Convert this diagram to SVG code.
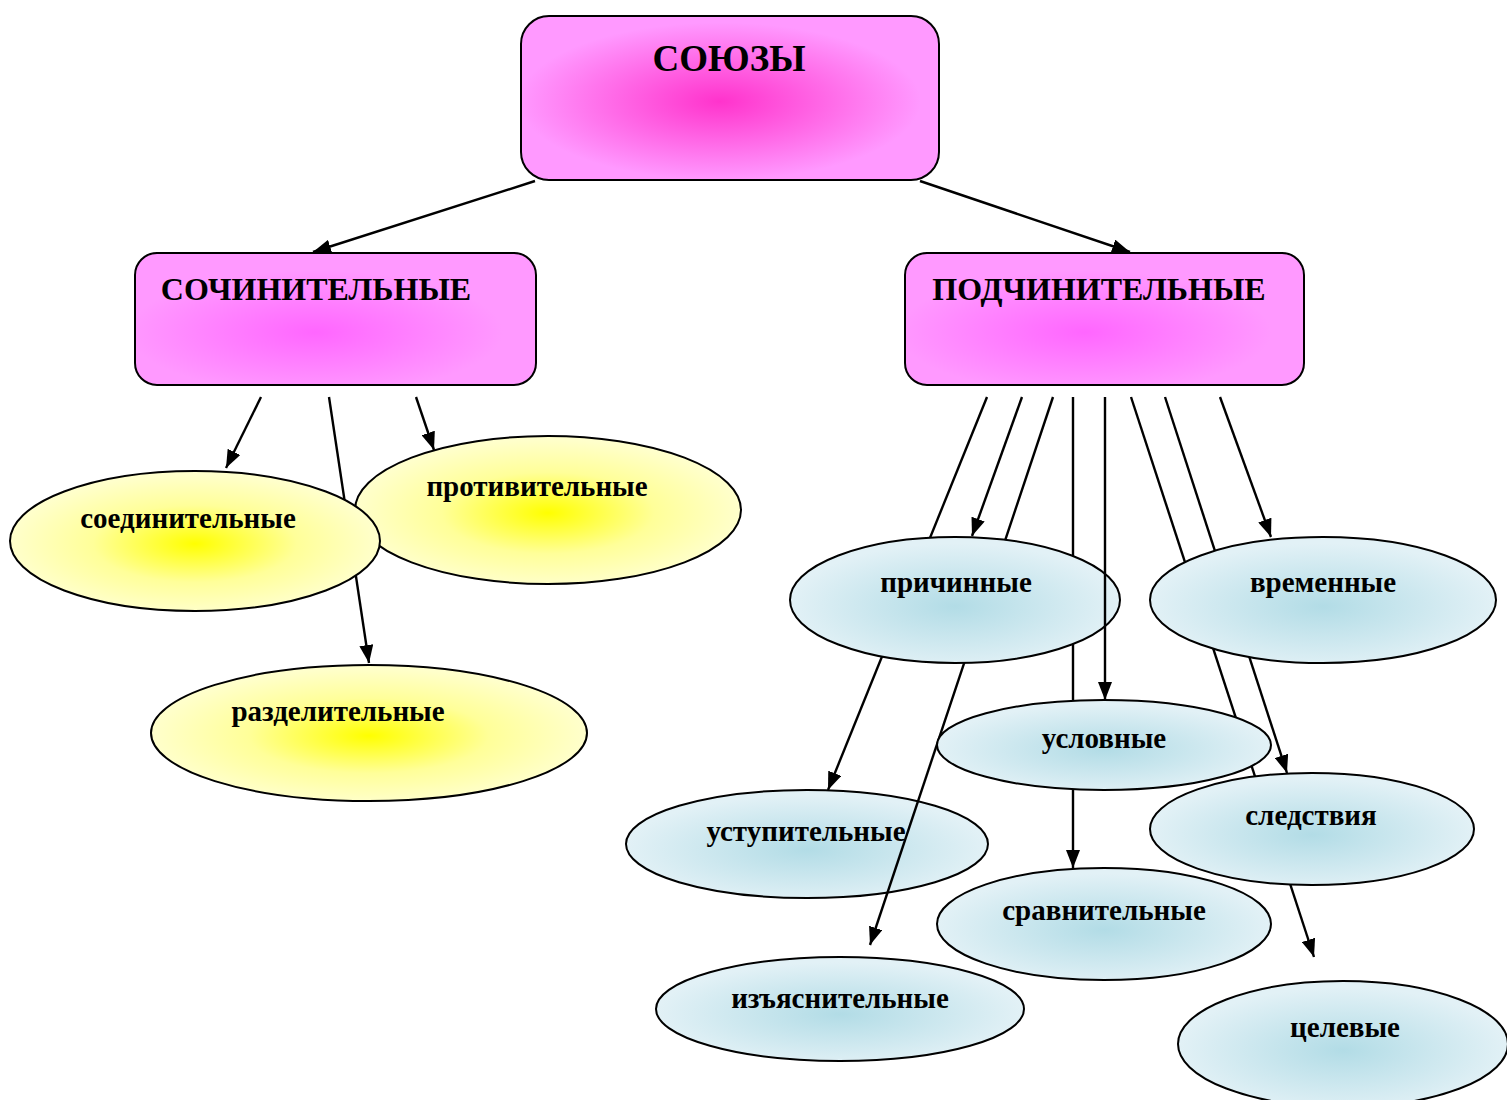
<svg xmlns="http://www.w3.org/2000/svg" width="1507" height="1100" viewBox="0 0 1507 1100">
<defs>
<radialGradient id="gTop" cx="0.476" cy="0.52" r="0.6">
<stop offset="0" stop-color="#ff33cc"/>
<stop offset="0.8" stop-color="#ff99ff"/>
<stop offset="1" stop-color="#ff99ff"/>
</radialGradient>
<radialGradient id="gSub" cx="0.45" cy="0.6" r="0.55">
<stop offset="0" stop-color="#ff66ff"/>
<stop offset="0.85" stop-color="#ff99ff"/>
<stop offset="1" stop-color="#ff99ff"/>
</radialGradient>
<radialGradient id="gY" cx="0.5" cy="0.52" r="0.5">
<stop offset="0" stop-color="#ffff00"/>
<stop offset="0.55" stop-color="#ffff99"/>
<stop offset="1" stop-color="#ffffcc"/>
</radialGradient>
<radialGradient id="gB" cx="0.5" cy="0.55" r="0.5">
<stop offset="0" stop-color="#b2dce6"/>
<stop offset="1" stop-color="#e2f1f6"/>
</radialGradient>
<marker id="arr" markerWidth="18" markerHeight="14" refX="18" refY="7" orient="auto" markerUnits="userSpaceOnUse">
<path d="M0,0 L18,7 L0,14 z" fill="#000"/>
</marker>
</defs>
<style>
.box{stroke:#000;stroke-width:2}
.ell{stroke:#000;stroke-width:2}
.ln{stroke:#000;stroke-width:2.4;fill:none}
.ar{marker-end:url(#arr)}
.t{font-family:"Liberation Serif","Times New Roman",serif;font-weight:bold;fill:#000;text-anchor:middle}
.big{font-size:37px}
.mid{font-size:32px}
.sm{font-size:29px}
</style>
<rect width="1507" height="1100" fill="#fff"/>

<g id="node-ustupitelnye">
<ellipse class="ell" cx="807" cy="844" rx="181" ry="54" fill="url(#gB)"/>
<text class="t sm" x="806" y="841">уступительные</text>
</g>

<g id="connectors">
<line class="ln ar" x1="535" y1="181" x2="313" y2="252"/>
<line class="ln ar" x1="920" y1="181" x2="1130" y2="252"/>
<line class="ln ar" x1="261" y1="397" x2="226" y2="468"/>
<line class="ln ar" x1="329" y1="397" x2="369" y2="663"/>
<line class="ln ar" x1="416" y1="397" x2="434" y2="450"/>
<line class="ln ar" x1="987" y1="397" x2="828" y2="790"/>
<line class="ln ar" x1="1022" y1="397" x2="972" y2="536"/>
<line class="ln ar" x1="1053" y1="397" x2="870" y2="945"/>
<line class="ln ar" x1="1073" y1="397" x2="1073" y2="868"/>
<line class="ln ar" x1="1131" y1="397" x2="1314" y2="957"/>
<line class="ln ar" x1="1165" y1="397" x2="1287" y2="773"/>
<line class="ln ar" x1="1220" y1="397" x2="1271" y2="537"/>
</g>

<g id="node-soyuzy">
<rect class="box" x="521" y="16" width="418" height="164" rx="28" fill="url(#gTop)"/>
<text class="t big" x="729" y="71">СОЮЗЫ</text>
</g>

<g id="node-sochinitelnye">
<rect class="box" x="135" y="253" width="401" height="132" rx="22" fill="url(#gSub)"/>
<text class="t mid" x="316" y="300">СОЧИНИТЕЛЬНЫЕ</text>
</g>

<g id="node-podchinitelnye">
<rect class="box" x="905" y="253" width="399" height="132" rx="22" fill="url(#gSub)"/>
<text class="t mid" x="1099" y="300">ПОДЧИНИТЕЛЬНЫЕ</text>
</g>

<g id="node-protivitelnye">
<ellipse class="ell" cx="548" cy="510" rx="193" ry="74" fill="url(#gY)"/>
<text class="t sm" x="537" y="496">противительные</text>
</g>

<g id="node-soedinitelnye">
<ellipse class="ell" cx="195" cy="541" rx="185" ry="70" fill="url(#gY)"/>
<text class="t sm" x="188" y="528">соединительные</text>
</g>

<g id="node-razdelitelnye">
<ellipse class="ell" cx="369" cy="733" rx="218" ry="68" fill="url(#gY)"/>
<text class="t sm" x="338" y="721">разделительные</text>
</g>

<g id="node-prichinnye">
<ellipse class="ell" cx="955" cy="600" rx="165" ry="63" fill="url(#gB)"/>
<text class="t sm" x="956" y="592">причинные</text>
</g>

<g id="connectors-over">
<line class="ln ar" x1="1105" y1="397" x2="1105" y2="700"/>
</g>

<g id="node-vremennye">
<ellipse class="ell" cx="1323" cy="600" rx="173" ry="63" fill="url(#gB)"/>
<text class="t sm" x="1323" y="592">временные</text>
</g>

<g id="node-uslovnye">
<ellipse class="ell" cx="1104" cy="745" rx="167" ry="45" fill="url(#gB)"/>
<text class="t sm" x="1104" y="748">условные</text>
</g>

<g id="node-sledstviya">
<ellipse class="ell" cx="1312" cy="829" rx="162" ry="56" fill="url(#gB)"/>
<text class="t sm" x="1311" y="825">следствия</text>
</g>

<g id="node-sravnitelnye">
<ellipse class="ell" cx="1104" cy="924" rx="167" ry="56" fill="url(#gB)"/>
<text class="t sm" x="1104" y="920">сравнительные</text>
</g>

<g id="node-izyasnitelnye">
<ellipse class="ell" cx="840" cy="1009" rx="184" ry="52" fill="url(#gB)"/>
<text class="t sm" x="840" y="1008">изъяснительные</text>
</g>

<g id="node-tselevye">
<ellipse class="ell" cx="1343" cy="1044" rx="165" ry="63" fill="url(#gB)"/>
<text class="t sm" x="1345" y="1037">целевые</text>
</g>
</svg>
